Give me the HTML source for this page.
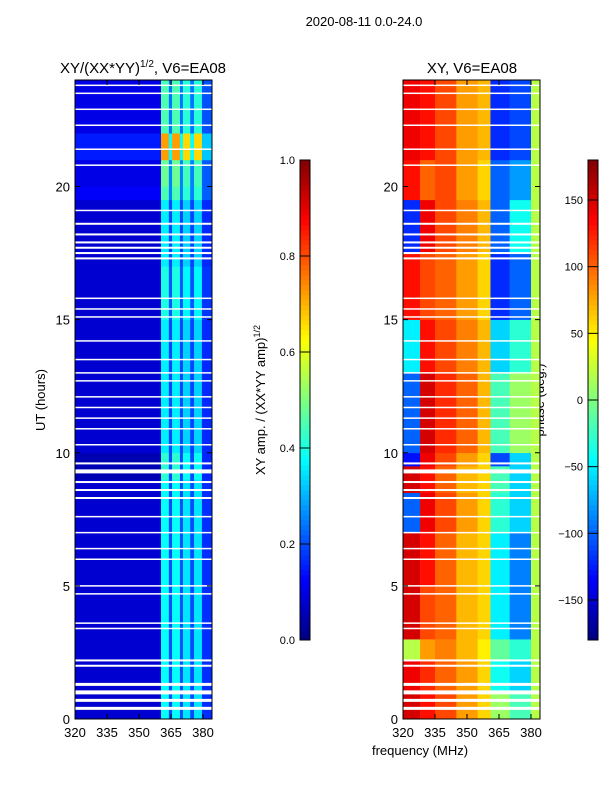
<!DOCTYPE html>
<html><head><meta charset="utf-8"><style>
body{margin:0;background:#fff;}
svg text{font-family:"Liberation Sans",sans-serif;fill:#000;}
</style></head><body>
<svg id="chart" width="600" height="800" xmlns="http://www.w3.org/2000/svg">
<text x="364" y="26" font-size="13" text-anchor="middle">2020-08-11 0.0-24.0</text>
<text x="143" y="73" font-size="15" text-anchor="middle">XY/(XX*YY)<tspan font-size="10" dy="-6">1/2</tspan><tspan dy="6">, V6=EA08</tspan></text>
<text x="472" y="73" font-size="15" text-anchor="middle">XY, V6=EA08</text>
<text x="45" y="400" font-size="13" text-anchor="middle" transform="rotate(-90 45 400)">UT (hours)</text>
<text x="420" y="755" font-size="13" text-anchor="middle">frequency (MHz)</text>
<text x="265" y="400" font-size="13" text-anchor="middle" transform="rotate(-90 265 400)">XY amp. / (XX*YY amp)<tspan font-size="9" dy="-5">1/2</tspan></text>
<text x="544" y="400" font-size="13" text-anchor="middle" transform="rotate(-90 544 400)">phase (deg.)</text>
<g id="g"></g>
</svg>
<script>
// ---- data ----
const timeEdgesAmp = [0,9,10,15,17,19.5,20,21,22,24];
const ampBase = [0.08,0.05,0.08,0.08,0.08,0.12,0.1,0.15,0.1];
const ampStripe = [0.38,0.42,0.36,0.4,0.36,0.45,0.48,0.72,0.45];
const ampFreqEdges = [320,360.3,364,365.5,369.2,370.6,374,375.8,379.5,384];
const ampFreqWeight = [0,1,0.4,1,0.4,0.9,0.4,0.9,0.3]; // 0 = base region
const phaseTimeEdges = [0,1,2.2,3,5,7,8.5,9.5,10,13,15,17.5,19.5,21,24];
const phaseFreqEdges = [320,328,335,345,355,361,370,380,384];
const phaseVals = [
 [150,130,110,80,60,10,-20,20],
 [140,120,100,80,60,-40,-60,20],
 [20,80,90,70,50,-10,-30,20],
 [150,110,100,70,60,-50,-90,20],
 [150,130,100,70,60,-50,-90,20],
 [-100,140,110,80,60,-30,-60,20],
 [150,130,100,70,60,-20,-60,20],
 [-130,140,110,80,60,-110,-60,20],
 [-100,150,120,100,70,-20,10,20],
 [-50,130,110,90,70,-60,-30,20],
 [130,110,100,80,60,-120,-100,20],
 [-120,140,110,90,70,-100,-40,20],
 [130,100,110,80,60,-100,-80,20],
 [140,130,110,80,70,-120,-110,20]
];
const gapTimes = [23.8,23.5,22.9,22.3,21.4,20.8,19.1,18.6,18.2,17.9,17.7,17.5,17.3,15.8,15.4,15.1,14.2,13.5,13.0,12.7,12.1,11.7,11.3,10.9,10.3,9.6,9.3,8.9,8.6,8.3,7.6,7.0,6.4,6.0,5.0,4.7,3.6,3.4,2.2,2.0,1.3,1.0,0.7,0.4];
const gapWidths = [1.5,1.5,1.5,1.5,1.5,1.5,1.5,2,2,2,2,2,2,1.5,1.5,1.5,1.5,1.5,1.5,1.5,1.5,1.5,1.5,1.5,1.5,2,4,2,2,2,1.5,1.5,1.5,1.5,1.5,1.5,1.5,1.5,2,2,3,4,3,3];
const xTicks = [320,335,350,365,380];
const yTicks = [0,5,10,15,20];
const ampTicks = [0.0,0.2,0.4,0.6,0.8,1.0];
const phaseTicks = [-150,-100,-50,0,50,100,150];
// ---- helpers ----
const NS="http://www.w3.org/2000/svg", G=document.getElementById('g');
function jet(v){v=Math.max(0,Math.min(1,v));
 const r=Math.max(0,Math.min(1,1.5-Math.abs(4*v-3))),g=Math.max(0,Math.min(1,1.5-Math.abs(4*v-2))),b=Math.max(0,Math.min(1,1.5-Math.abs(4*v-1)));
 return `rgb(${Math.round(r*255)},${Math.round(g*255)},${Math.round(b*255)})`;}
function mk(t,a,p){const e=document.createElementNS(NS,t);for(const k in a)e.setAttribute(k,a[k]);(p||G).appendChild(e);return e;}
const Y=t=>719-(t/24)*639;
function X(f,x0){return x0+(f-320)*(128/60);}
const panels=[{x0:75,name:'amp'},{x0:403,name:'phase'}];
// amp heatmap
for(let i=0;i<ampBase.length;i++){
 for(let j=0;j<ampFreqWeight.length;j++){
  const w=ampFreqWeight[j];
  const v = w===0?ampBase[i]:ampBase[i]+(ampStripe[i]-ampBase[i])*w;
  const r=mk('rect',{x:X(ampFreqEdges[j],75),y:Y(timeEdgesAmp[i+1]),width:X(ampFreqEdges[j+1],75)-X(ampFreqEdges[j],75)+0.3,height:Y(timeEdgesAmp[i])-Y(timeEdgesAmp[i+1])+0.3,fill:jet(v)});
  
  
 }
}
// phase heatmap
for(let i=0;i<phaseVals.length;i++){
 for(let j=0;j<phaseVals[i].length;j++){
  const v=(phaseVals[i][j]+180)/360;
  const r=mk('rect',{x:X(phaseFreqEdges[j],403),y:Y(phaseTimeEdges[i+1]),width:X(phaseFreqEdges[j+1],403)-X(phaseFreqEdges[j],403)+0.3,height:Y(phaseTimeEdges[i])-Y(phaseTimeEdges[i+1])+0.3,fill:jet(v)});
  
  
 }
}
// gaps
for(const p of panels){
 gapTimes.forEach((t,k)=>{
  const r=mk('rect',{x:p.x0,y:Y(t)-gapWidths[k]/2,width:137,height:gapWidths[k],fill:'#fff'});
  
  
 });
}
// axes
for(const p of panels){
 const f=mk('rect',{x:p.x0,y:80,width:137,height:639,fill:'none',stroke:'#000','stroke-width':1});
 
 
 xTicks.forEach(v=>{const x=X(v,p.x0);
  mk('line',{x1:x,x2:x,y1:719,y2:714,stroke:'#000'});mk('line',{x1:x,x2:x,y1:80,y2:85,stroke:'#000'});
  const t=mk('text',{x:x,y:737,'font-size':13,'text-anchor':'middle'});t.textContent=v;
  
  });
 yTicks.forEach(v=>{const y=Y(v);
  mk('line',{x1:p.x0,x2:p.x0+5,y1:y,y2:y,stroke:'#000'});mk('line',{x1:p.x0+137,x2:p.x0+132,y1:y,y2:y,stroke:'#000'});
  const t=mk('text',{x:p.x0-5,y:y+5,'font-size':13,'text-anchor':'end'});t.textContent=v;
  
  });
}
// colorbars
function colorbar(x,name,ticks,lo,hi,fmt){
 for(let k=0;k<96;k++){mk('rect',{x:x,y:640-(k+1)*5,width:10,height:5.3,fill:jet((k+0.5)/96)});}
 const f=mk('rect',{x:x,y:160,width:10,height:480,fill:'none',stroke:'#000'});
 
 
 ticks.forEach(v=>{const y=640-(v-lo)/(hi-lo)*480;
  mk('line',{x1:x,x2:x+10,y1:y,y2:y,stroke:'#000'});
  const t=mk('text',{x:x-5,y:y+4,'font-size':11,'text-anchor':'end'});t.textContent=fmt(v);
  
  });
}
colorbar(300,'amp-colorbar',ampTicks,0,1,v=>v.toFixed(1));
colorbar(588,'phase-colorbar',phaseTicks,-180,180,v=>v<0?'\u2212'+(-v):String(v));
</script>
</body></html>
